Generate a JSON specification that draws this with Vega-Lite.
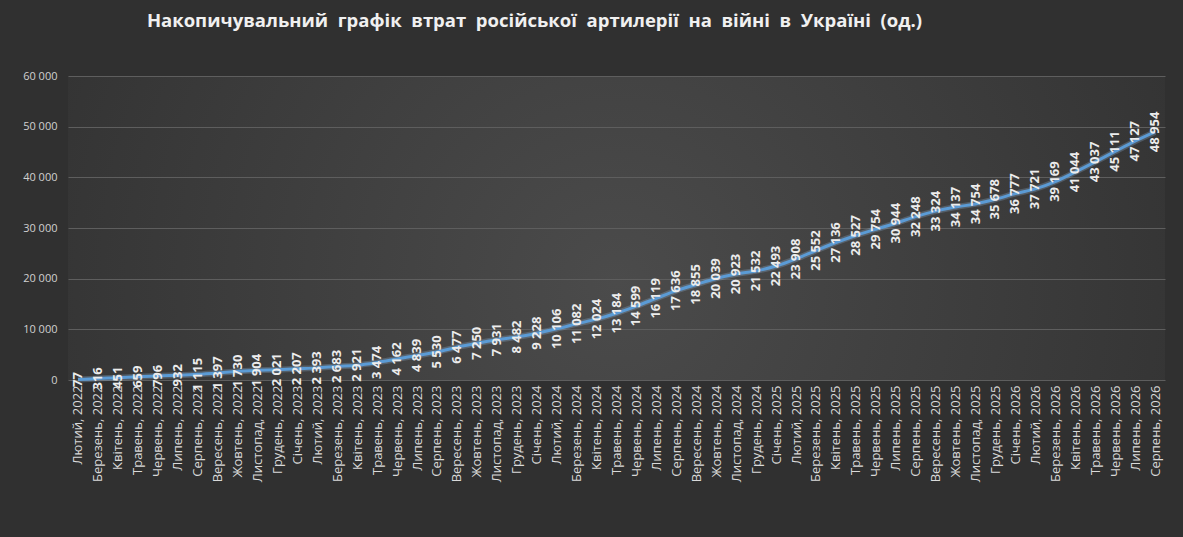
{
  "$schema": "https://vega.github.io/schema/vega-lite/v6.json",
  "width": 1097,
  "height": 304,
  "autosize": {"type": "none"},
  "padding": {"left": 68, "top": 76, "right": 18, "bottom": 157},
  "background": "#303030",
  "config": {
    "locale": {"number": {"decimal": ",", "thousands": " ", "grouping": [3], "currency": ["", ""]}},
    "view": {
      "stroke": null,
      "fill": {"gradient": "radial", "x1": 0.5, "y1": 0.55, "x2": 0.5, "y2": 0.55, "r1": 0, "r2": 0.75,
        "stops": [{"offset": 0, "color": "#4b4b4b"}, {"offset": 1, "color": "#2b2b2b"}]}
    },
    "font": "Open Sans"
  },
  "title": {
    "text": "Накопичувальний\u00a0 графік\u00a0 втрат\u00a0 російської\u00a0 артилерії\u00a0 на\u00a0 війні\u00a0 в\u00a0 Україні\u00a0 (од.)",
    "font": "Open Sans",
    "fontSize": 18.5,
    "fontWeight": "bold",
    "color": "#f0f0f0",
    "anchor": "middle",
    "frame": "group",
    "dx": -82,
    "offset": 40
  },
  "data": {
    "values": [
      {"m": "Лютий, 2022", "v": 77},
      {"m": "Березень, 2022", "v": 316},
      {"m": "Квітень, 2022", "v": 451},
      {"m": "Травень, 2022", "v": 659},
      {"m": "Червень, 2022", "v": 796},
      {"m": "Липень, 2022", "v": 932},
      {"m": "Серпень, 2022", "v": 1115},
      {"m": "Вересень, 2022", "v": 1397},
      {"m": "Жовтень, 2022", "v": 1730},
      {"m": "Листопад, 2022", "v": 1904},
      {"m": "Грудень, 2022", "v": 2021},
      {"m": "Січень, 2023", "v": 2207},
      {"m": "Лютий, 2023", "v": 2393},
      {"m": "Березень, 2023", "v": 2683},
      {"m": "Квітень, 2023", "v": 2921},
      {"m": "Травень, 2023", "v": 3474},
      {"m": "Червень, 2023", "v": 4162},
      {"m": "Липень, 2023", "v": 4839},
      {"m": "Серпень, 2023", "v": 5530},
      {"m": "Вересень, 2023", "v": 6477},
      {"m": "Жовтень, 2023", "v": 7250},
      {"m": "Листопад, 2023", "v": 7931},
      {"m": "Грудень, 2023", "v": 8482},
      {"m": "Січень, 2024", "v": 9228},
      {"m": "Лютий, 2024", "v": 10106},
      {"m": "Березень, 2024", "v": 11082},
      {"m": "Квітень, 2024", "v": 12024},
      {"m": "Травень, 2024", "v": 13184},
      {"m": "Червень, 2024", "v": 14599},
      {"m": "Липень, 2024", "v": 16119},
      {"m": "Серпень, 2024", "v": 17636},
      {"m": "Вересень, 2024", "v": 18855},
      {"m": "Жовтень, 2024", "v": 20039},
      {"m": "Листопад, 2024", "v": 20923},
      {"m": "Грудень, 2024", "v": 21532},
      {"m": "Січень, 2025", "v": 22493},
      {"m": "Лютий, 2025", "v": 23908},
      {"m": "Березень, 2025", "v": 25552},
      {"m": "Квітень, 2025", "v": 27136},
      {"m": "Травень, 2025", "v": 28527},
      {"m": "Червень, 2025", "v": 29754},
      {"m": "Липень, 2025", "v": 30944},
      {"m": "Серпень, 2025", "v": 32248},
      {"m": "Вересень, 2025", "v": 33324},
      {"m": "Жовтень, 2025", "v": 34137},
      {"m": "Листопад, 2025", "v": 34754},
      {"m": "Грудень, 2025", "v": 35678},
      {"m": "Січень, 2026", "v": 36777},
      {"m": "Лютий, 2026", "v": 37721},
      {"m": "Березень, 2026", "v": 39169},
      {"m": "Квітень, 2026", "v": 41044},
      {"m": "Травень, 2026", "v": 43037},
      {"m": "Червень, 2026", "v": 45111},
      {"m": "Липень, 2026", "v": 47127},
      {"m": "Серпень, 2026", "v": 48954}
    ]
  },
  "encoding": {
    "x": {
      "field": "m",
      "type": "nominal",
      "sort": null,
      "scale": {"type": "point", "padding": 0.5},
      "axis": {
        "title": null,
        "labelAngle": -90,
        "labelFont": "Open Sans",
        "labelFontSize": 13,
        "labelColor": "#d9d9d9",
        "labelPadding": 5,
        "ticks": false,
        "domain": false,
        "grid": false,
        "labelOverlap": false
      }
    },
    "y": {
      "field": "v",
      "type": "quantitative",
      "scale": {"domain": [0, 60000], "nice": false},
      "axis": {
        "title": null,
        "values": [0, 10000, 20000, 30000, 40000, 50000, 60000],
        "format": ",d",
        "labelFont": "Open Sans",
        "labelFontSize": 11,
        "labelColor": "#d0d0d0",
        "labelPadding": 11,
        "ticks": false,
        "domain": false,
        "grid": true,
        "gridColor": "#5e5e5e",
        "gridWidth": 1
      }
    }
  },
  "layer": [
    {
      "mark": {"type": "line", "interpolate": "monotone", "color": "#9cc3ea", "strokeWidth": 6, "opacity": 0.25}
    },
    {
      "mark": {"type": "line", "interpolate": "monotone", "color": "#5b9bd5", "strokeWidth": 3}
    },
    {
      "mark": {"type": "text", "angle": 270, "align": "center", "baseline": "middle", "font": "Open Sans", "fontSize": 13, "fontWeight": "bold", "color": "#ececec"},
      "encoding": {
        "text": {"field": "v", "type": "quantitative", "format": ",d"}
      }
    }
  ]
}
